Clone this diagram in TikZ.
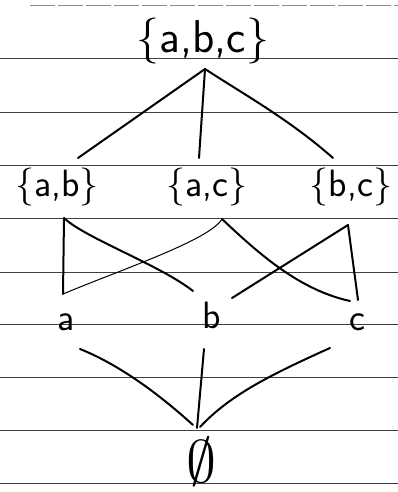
\documentclass[tikz,border=0pt]{standalone}
\begin{document}
\begin{tikzpicture}[x=1pt,y=-1pt,
  rule/.style={black!75,line width=0.6pt},
  edge/.style={line width=2pt,line cap=round,line join=round},
  thinedge/.style={line width=1pt,line cap=round},
  lbl/.style={font=\fontsize{38}{38}\selectfont\sffamily,inner sep=0pt},
  biglbl/.style={font=\fontsize{46}{46}\selectfont\sffamily,inner sep=0pt}]
\useasboundingbox (0,0) rectangle (398,492);
\fill[white] (0,0) rectangle (398,492);
% ruled paper
\foreach \yy in {58,112,165,218,272,324,377,430,483}
  \draw[rule] (0,\yy) -- (398,\yy);
\draw[rule,black!45,dash pattern=on 25pt off 3pt] (30,5) -- (398,5);
% labels
\node[biglbl] (abc) at (203,41) {\{a,b,c\}};
\node[lbl] (ab) at (57,187) {\{a,b\}};
\node[lbl] (ac) at (207,187) {\{a,c\}};
\node[lbl] (bc) at (351,187) {\{b,c\}};
\node[lbl] (a) at (66,322) {a};
\node[lbl] (b) at (212,315) {b};
\node[lbl] (c) at (357,322) {c};
\node[scale=6,inner sep=0pt] (e) at (201,462) {$\emptyset$};
% endpoints
\coordinate (abcB) at (205,69);
\coordinate (abT) at (78,158);
\coordinate (acT) at (199,158);
\coordinate (bcT) at (333,158);
\coordinate (abB) at (64,218);
\coordinate (acB) at (222,219);
\coordinate (bcB) at (348,225);
\coordinate (aT) at (63,294);
\coordinate (bTl) at (193,291);
\coordinate (bTr) at (232,298);
\coordinate (cTl) at (350,301);
\coordinate (cTr) at (358,300);
\coordinate (aB) at (80,349);
\coordinate (bB) at (204,349);
\coordinate (cB) at (330,348);
\coordinate (eTl) at (193,425);
\coordinate (eT) at (197,428);
\coordinate (eTr) at (200,427);
% top layer
\draw[edge] (abcB) -- (abT);
\draw[edge] (abcB) -- (acT);
\draw[edge] (abcB) .. controls (245,95) and (290,120) .. (bcT);
% middle layer
\draw[edge] (abB) -- (aT);
\draw[edge] (abB) .. controls (85,238) and (160,265) .. (bTl);
\draw[thinedge] (acB) .. controls (210,240) and (120,270) .. (aT);
\draw[edge] (acB) .. controls (260,255) and (300,290) .. (cTl);
\draw[edge] (bcB) -- (bTr);
\draw[edge] (bcB) -- (cTr);
% bottom layer
\draw[edge] (aB) .. controls (120,365) and (160,395) .. (eTl);
\draw[edge] (bB) -- (eT);
\draw[edge] (cB) .. controls (270,375) and (230,395) .. (eTr);
\end{tikzpicture}
\end{document}
